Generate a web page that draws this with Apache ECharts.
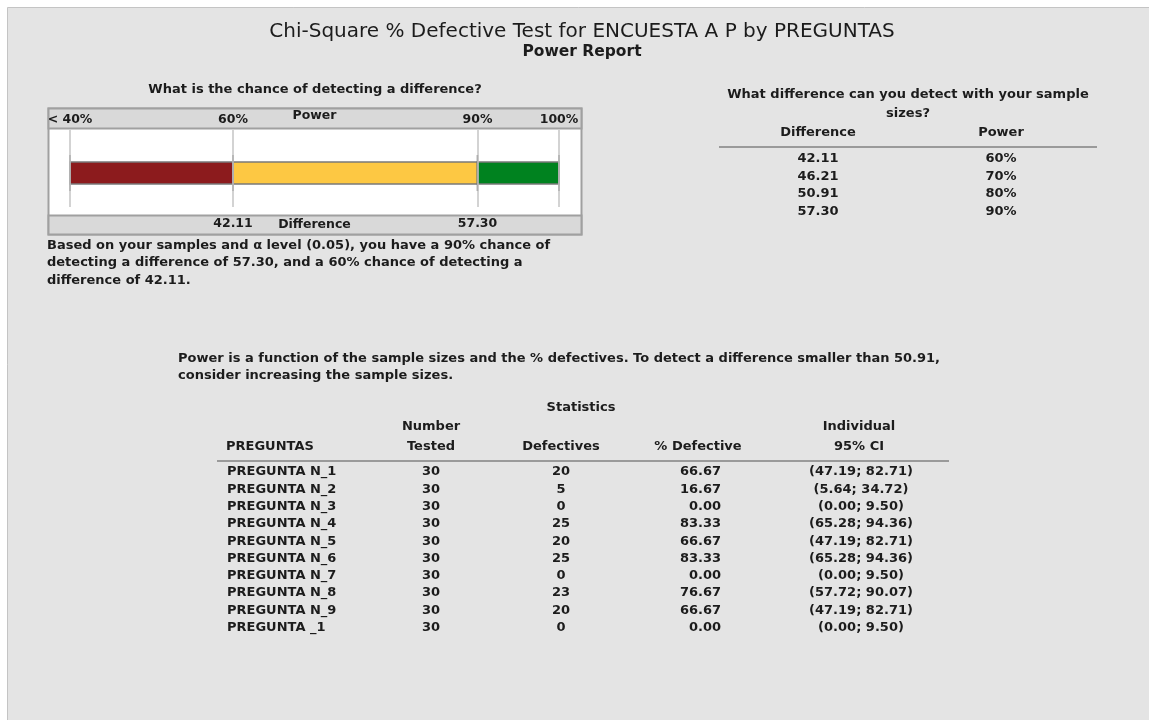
<!DOCTYPE html>
<html>
<head>
<meta charset="utf-8">
<title>Chi-Square % Defective Test - Power Report</title>
<script src="https://cdn.jsdelivr.net/npm/echarts@6/dist/echarts.min.js"></script>
<style>
  html, body { margin: 0; padding: 0; background: #fff; }
  #main { width: 1149px; height: 720px; }
</style>
</head>
<body>
<div id="main"></div>
<script>
// power scale of the bar and its labels
const powerTicks = [40, 60, 90, 100];
const powerTickLabels = ['< 40%', '60%', '90%', '100%'];
const segmentColors = ['#8c1b1d', '#fdc843', '#00821f'];

// what difference can you detect
const detectDiff = ['42.11', '46.21', '50.91', '57.30'];
const detectPower = [60, 70, 80, 90];

// statistics table
const preguntas = ['PREGUNTA N_1', 'PREGUNTA N_2', 'PREGUNTA N_3', 'PREGUNTA N_4', 'PREGUNTA N_5',
  'PREGUNTA N_6', 'PREGUNTA N_7', 'PREGUNTA N_8', 'PREGUNTA N_9', 'PREGUNTA _1'];
const numberTested = [30, 30, 30, 30, 30, 30, 30, 30, 30, 30];
const defectives = [20, 5, 0, 25, 20, 25, 0, 23, 20, 0];
const pctDefective = ['66.67', '16.67', '0.00', '83.33', '66.67', '83.33', '0.00', '76.67', '66.67', '0.00'];
const ciLow = ['47.19', '5.64', '0.00', '65.28', '47.19', '65.28', '0.00', '57.72', '47.19', '0.00'];
const ciHigh = ['82.71', '34.72', '9.50', '94.36', '82.71', '94.36', '9.50', '90.07', '82.71', '9.50'];

const FONT = '"DejaVu Sans", sans-serif';
const INK = '#1c1c1c';

const chart = echarts.init(document.getElementById('main'));

// segments of the power bar: 40-60, 60-90, 90-100
const segments = [];
for (let i = 0; i < powerTicks.length - 1; i++) {
  segments.push([powerTicks[i], powerTicks[i + 1]]);
}

// difference shown under the 60% and 90% marks
const diffLabel = {};
detectPower.forEach((p, i) => { diffLabel[p] = detectDiff[i]; });
const diffTicks = [60, 90];

function txt(x, y, text, opt) {
  opt = opt || {};
  return {
    type: 'text',
    x: x,
    y: y,
    style: {
      text: text,
      font: (opt.weight || 'bold') + ' ' + (opt.size || 13) + 'px ' + FONT,
      fill: opt.color || INK,
      align: opt.align || 'left',
      verticalAlign: 'middle'
    }
  };
}

function hline(x1, x2, y) {
  return {
    type: 'line',
    shape: { x1: x1, y1: y, x2: x2, y2: y },
    style: { stroke: '#9a9a9a', lineWidth: 2 }
  };
}

const graphics = [
  // panel
  { type: 'rect', shape: { x: 7.5, y: 7.5, width: 1150, height: 720 }, style: { fill: '#e4e4e4', stroke: '#c4c4c4', lineWidth: 1 } },
  txt(582, 32, 'Chi-Square % Defective Test for ENCUESTA A P by PREGUNTAS', { size: 20, weight: 'normal', align: 'center' }),
  txt(582, 52, 'Power Report', { size: 15.5, align: 'center' }),

  // power bar frame
  txt(315, 90, 'What is the chance of detecting a difference?', { align: 'center' }),
  { type: 'rect', shape: { x: 48.5, y: 108.5, width: 533, height: 126 }, style: { fill: '#fff', stroke: '#a0a0a0', lineWidth: 2 } },
  { type: 'rect', shape: { x: 48.5, y: 108.5, width: 533, height: 20 }, style: { fill: '#d9d9d9', stroke: '#a0a0a0', lineWidth: 2 } },
  { type: 'rect', shape: { x: 48.5, y: 215.5, width: 533, height: 19 }, style: { fill: '#d9d9d9', stroke: '#a0a0a0', lineWidth: 2 } },

  txt(47, 246, 'Based on your samples and \u03b1 level (0.05), you have a 90% chance of'),
  txt(47, 263, 'detecting a difference of 57.30, and a 60% chance of detecting a'),
  txt(47, 281, 'difference of 42.11.'),

  // right table
  txt(908, 95, 'What difference can you detect with your sample', { align: 'center' }),
  txt(908, 114, 'sizes?', { align: 'center' }),
  txt(818, 133, 'Difference', { align: 'center' }),
  txt(1001, 133, 'Power', { align: 'center' }),
  hline(719, 1097, 147),

  // note
  txt(178, 359, 'Power is a function of the sample sizes and the % defectives. To detect a difference smaller than ' + detectDiff[2] + ','),
  txt(178, 376, 'consider increasing the sample sizes.'),

  // statistics table header
  txt(581, 408, 'Statistics', { align: 'center' }),
  txt(431, 427, 'Number', { align: 'center' }),
  txt(431, 447, 'Tested', { align: 'center' }),
  txt(226, 447, 'PREGUNTAS'),
  txt(561, 447, 'Defectives', { align: 'center' }),
  txt(698, 447, '% Defective', { align: 'center' }),
  txt(859, 427, 'Individual', { align: 'center' }),
  txt(859, 447, '95% CI', { align: 'center' }),
  hline(217, 949, 461)
];

detectDiff.forEach((d, i) => {
  const y = 158.5 + i * 17.8;
  graphics.push(txt(818, y, d, { align: 'center' }));
  graphics.push(txt(1001, y, detectPower[i] + '%', { align: 'center' }));
});

preguntas.forEach((p, i) => {
  const y = 472 + i * 17.3;
  graphics.push(txt(227, y, p));
  graphics.push(txt(431, y, String(numberTested[i]), { align: 'center' }));
  graphics.push(txt(561, y, String(defectives[i]), { align: 'center' }));
  graphics.push(txt(721, y, pctDefective[i], { align: 'right' }));
  graphics.push(txt(861, y, '(' + ciLow[i] + '; ' + ciHigh[i] + ')', { align: 'center' }));
});

const axisText = { color: INK, fontSize: 12.5, fontWeight: 'bold', fontFamily: FONT };

chart.setOption({
  animation: false,
  graphic: graphics,
  grid: { left: 70, width: 489, top: 130, height: 77 },
  xAxis: [
    {
      type: 'value', min: 40, max: 100, position: 'top',
      name: 'Power', nameLocation: 'middle', nameGap: 8, nameMoveOverlap: false,
      nameTextStyle: axisText,
      axisLine: { show: false }, axisTick: { show: false }, splitLine: { show: false },
      axisLabel: Object.assign({
        customValues: powerTicks, margin: 4,
        formatter: v => powerTickLabels[powerTicks.indexOf(v)]
      }, axisText)
    },
    {
      type: 'value', min: 40, max: 100, position: 'bottom',
      name: 'Difference', nameLocation: 'middle', nameGap: 11, nameMoveOverlap: false,
      nameTextStyle: axisText,
      axisLine: { show: false }, axisTick: { show: false }, splitLine: { show: false },
      axisLabel: Object.assign({
        customValues: diffTicks, margin: 10,
        formatter: v => diffLabel[v]
      }, axisText)
    }
  ],
  yAxis: { type: 'value', min: 0, max: 1, show: false },
  series: [{
    type: 'custom',
    xAxisIndex: 0,
    encode: { x: [0, 1] },
    data: segments,
    renderItem: (params, api) => {
      const a = api.coord([api.value(0), 0]);
      const b = api.coord([api.value(1), 0]);
      const top = params.coordSys.y + 32;
      const capStyle = { stroke: '#6e6e6e', lineWidth: 1.5 };
      const children = [
        {
          type: 'rect',
          shape: { x: a[0], y: top, width: b[0] - a[0], height: 22 },
          style: { fill: segmentColors[params.dataIndex], stroke: '#7a7a7a', lineWidth: 1.5 }
        },
        { type: 'line', shape: { x1: a[0], y1: top - 7, x2: a[0], y2: top + 29 }, style: capStyle }
      ];
      if (params.dataIndex === segments.length - 1) {
        children.push({ type: 'line', shape: { x1: b[0], y1: top - 7, x2: b[0], y2: top + 29 }, style: capStyle });
      }
      return { type: 'group', children: children };
    },
    markLine: {
      silent: true,
      symbol: 'none',
      label: { show: false },
      lineStyle: { color: '#c4c4c4', type: 'solid', width: 1.5 },
      data: powerTicks.map(v => ({ xAxis: v }))
    }
  }]
});
</script>
</body>
</html>
